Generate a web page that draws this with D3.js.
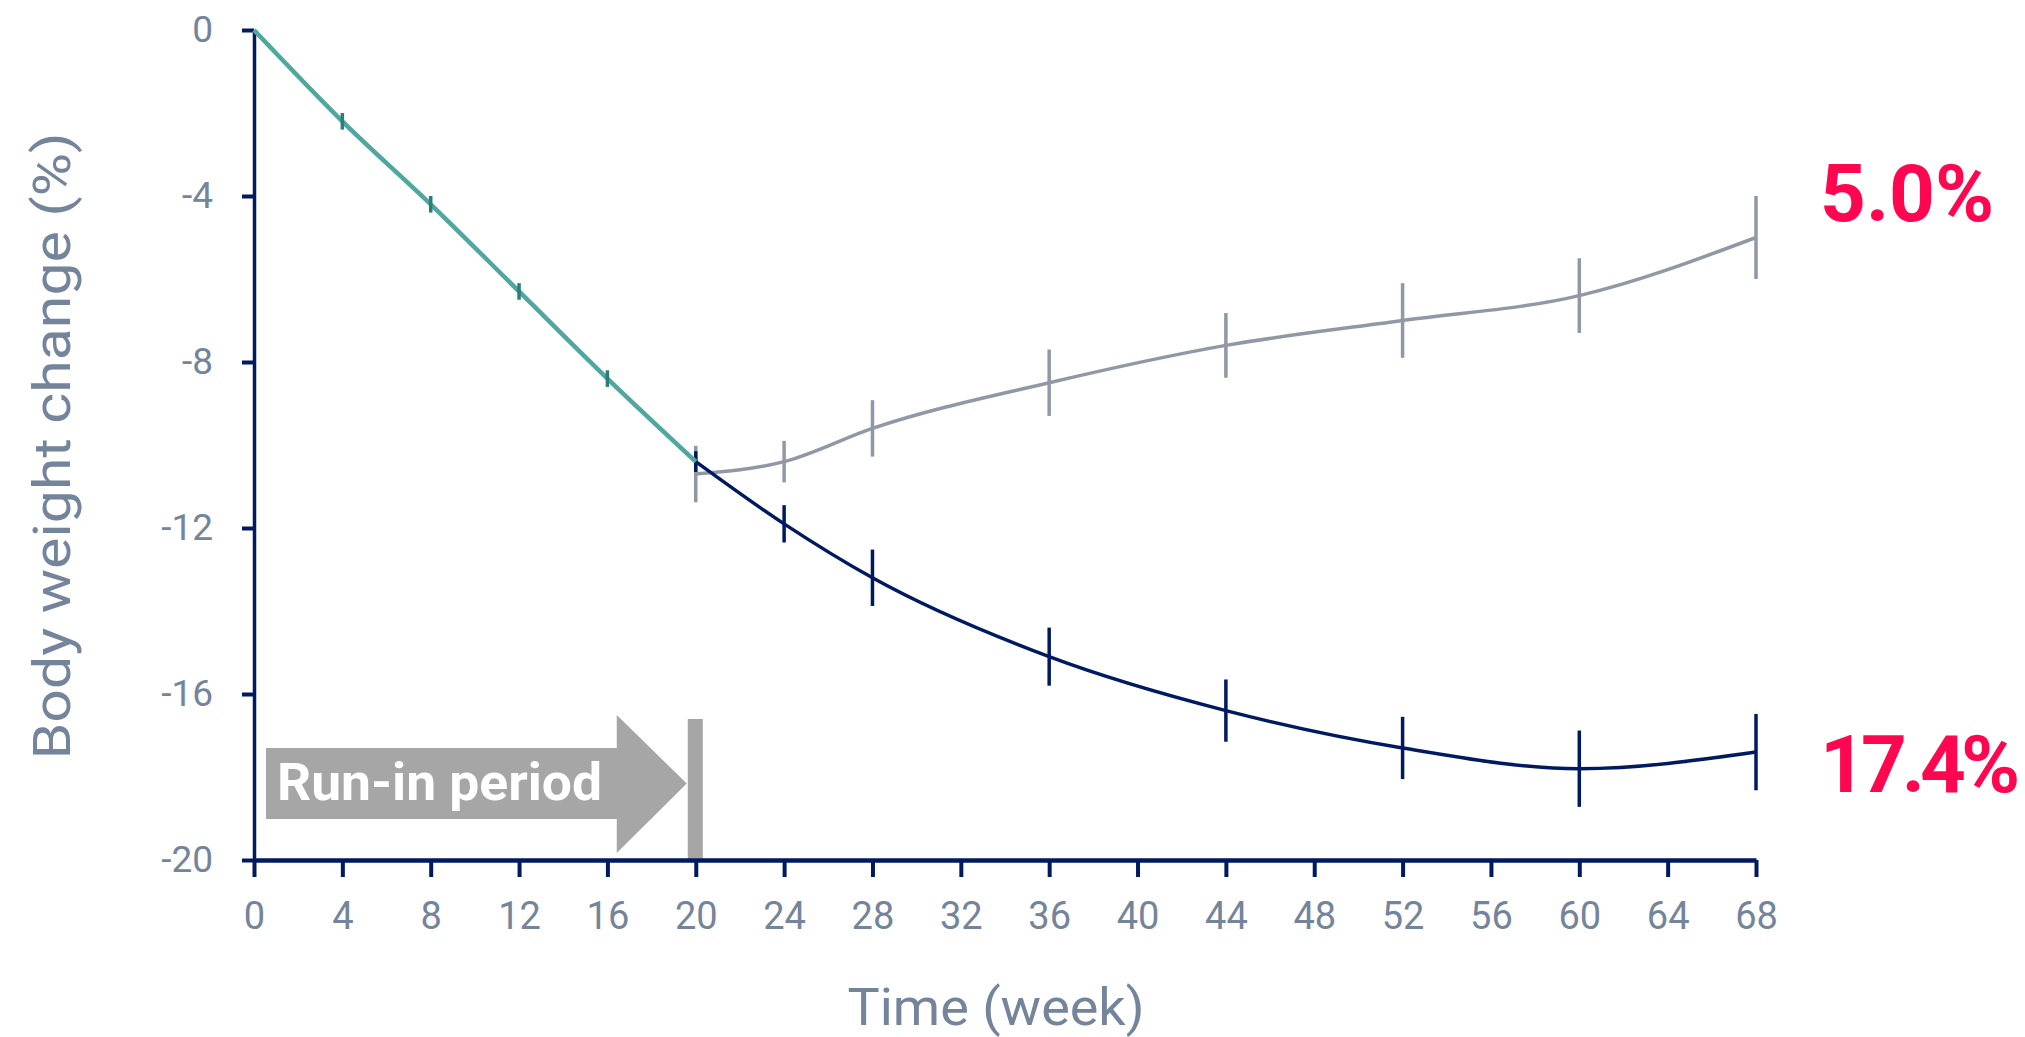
<!DOCTYPE html>
<html>
<head>
<meta charset="utf-8">
<script src="https://cdn.jsdelivr.net/npm/d3@7"></script>
<style>
  html, body { margin: 0; padding: 0; background: #ffffff; }
  svg { display: block; }
</style>
</head>
<body>
<svg id="chart" width="2025" height="1037"></svg>
<script>
// Body weight change over time: shared run-in, then two arms after randomisation
const runInWeeks = [0, 4, 8, 12, 16, 20];
const runInChange = [0, -2.2, -4.2, -6.3, -8.4, -10.4];
const runInError = [0, 0.2, 0.2, 0.2, 0.2, 0];

const armWeeks = [20, 24, 28, 36, 44, 52, 60, 68];
const continuedChange = [-10.4, -11.9, -13.2, -15.1, -16.4, -17.3, -17.8, -17.4];
const continuedError = [0.25, 0.45, 0.68, 0.7, 0.75, 0.75, 0.92, 0.92];
const placeboChange = [-10.7, -10.4, -9.6, -8.5, -7.6, -7.0, -6.4, -5.0];
const placeboError = [0.68, 0.5, 0.68, 0.8, 0.78, 0.9, 0.9, 1.0];

const xTickValues = [0, 4, 8, 12, 16, 20, 24, 28, 32, 36, 40, 44, 48, 52, 56, 60, 64, 68];
const yTickValues = [0, -4, -8, -12, -16, -20];

const xTitle = "Time (week)";
const yTitle = "Body weight change (%)";
const runInText = "Run-in period";
const runInEnd = 20;

const navy = "#001a62";
const grey = "#9198a5";
const teal = "#4fa89e";
const labelRed = "#ff0750";
const textGrey = "#74849a";
const fontStack = "Roboto, 'Open Sans', sans-serif";

const svg = d3.select("#chart");
svg.append("rect").attr("width", 2025).attr("height", 1037).attr("fill", "#ffffff");

const x = d3.scaleLinear().domain([0, 68]).range([254, 1756]);
const y = d3.scaleLinear().domain([-20, 0]).range([860, 30]);

// Run-in annotation: block arrow plus a bar marking the end of run-in
const arrow = {
  left: x(0) + 12,
  headBase: x(runInEnd) - 79,
  tip: x(runInEnd) - 9,
  bodyTop: 748,
  bodyBottom: 819,
  headTop: 715,
  headBottom: 853
};
const arrowMid = (arrow.bodyTop + arrow.bodyBottom) / 2;
svg.append("path")
  .attr("d", d3.line()([
    [arrow.left, arrow.bodyTop],
    [arrow.headBase, arrow.bodyTop],
    [arrow.headBase, arrow.headTop],
    [arrow.tip, arrowMid],
    [arrow.headBase, arrow.headBottom],
    [arrow.headBase, arrow.bodyBottom],
    [arrow.left, arrow.bodyBottom]
  ]) + "Z")
  .attr("fill", "#a6a6a6");

svg.append("rect")
  .attr("x", x(runInEnd) - 8)
  .attr("y", 719)
  .attr("width", 15)
  .attr("height", y(-20) - 719)
  .attr("fill", "#a6a6a6");

svg.append("text")
  .attr("x", arrow.left + 11)
  .attr("y", 800)
  .attr("font-family", fontStack)
  .attr("font-weight", 700)
  .attr("font-size", 52)
  .attr("fill", "#ffffff")
  .attr("textLength", 325)
  .attr("lengthAdjust", "spacingAndGlyphs")
  .text(runInText);

// Axes
const yAxis = d3.axisLeft(y)
  .tickValues(yTickValues)
  .tickFormat(d => d === 0 ? "0" : "-" + Math.abs(d))
  .tickSize(12)
  .tickSizeOuter(0)
  .tickPadding(29);
const yg = svg.append("g").attr("transform", `translate(${x(0)},0)`).call(yAxis);
yg.select(".domain").attr("stroke", navy).attr("stroke-width", 3.5);
yg.selectAll(".tick line").attr("stroke", navy).attr("stroke-width", 4);
yg.selectAll(".tick text")
  .attr("fill", textGrey)
  .attr("font-family", fontStack)
  .attr("font-size", 37);

const xAxis = d3.axisBottom(x)
  .tickValues(xTickValues)
  .tickFormat(d3.format("d"))
  .tickSize(17)
  .tickSizeOuter(0)
  .tickPadding(25);
const xg = svg.append("g").attr("transform", `translate(0,${y(-20)})`).call(xAxis);
xg.select(".domain").attr("stroke", navy).attr("stroke-width", 4.5);
xg.selectAll(".tick line").attr("stroke", navy).attr("stroke-width", 4);
xg.selectAll(".tick text")
  .attr("fill", textGrey)
  .attr("font-family", fontStack)
  .attr("font-size", 38);

// Axis titles
svg.append("text")
  .attr("x", 996)
  .attr("y", 1025)
  .attr("text-anchor", "middle")
  .attr("font-family", fontStack)
  .attr("font-size", 52)
  .attr("fill", textGrey)
  .attr("textLength", 297)
  .attr("lengthAdjust", "spacingAndGlyphs")
  .text(xTitle);

svg.append("text")
  .attr("transform", "translate(70,446) rotate(-90)")
  .attr("text-anchor", "middle")
  .attr("font-family", fontStack)
  .attr("font-size", 52)
  .attr("fill", textGrey)
  .attr("textLength", 627)
  .attr("lengthAdjust", "spacingAndGlyphs")
  .text(yTitle);

// Series: line through the means with vertical error bars
function drawSeries(weeks, values, errors, colour, width, barColour) {
  const pts = weeks.map((w, i) => ({ w, v: values[i], e: errors[i] }));
  svg.append("path")
    .datum(pts)
    .attr("fill", "none")
    .attr("stroke", colour)
    .attr("stroke-width", width)
    .attr("stroke-linejoin", "round")
    .attr("d", d3.line().x(d => x(d.w)).y(d => y(d.v)).curve(d3.curveMonotoneX));
  svg.append("g")
    .selectAll("line")
    .data(pts.filter(d => d.e > 0))
    .join("line")
    .attr("x1", d => x(d.w))
    .attr("x2", d => x(d.w))
    .attr("y1", d => y(d.v - d.e))
    .attr("y2", d => y(d.v + d.e))
    .attr("stroke", barColour)
    .attr("stroke-width", 3.5);
}

drawSeries(armWeeks, placeboChange, placeboError, grey, 3.5, grey);
drawSeries(armWeeks, continuedChange, continuedError, navy, 3.5, navy);
drawSeries(runInWeeks, runInChange, runInError, teal, 4.5, "#2b7f78");

// End-of-study values
const endLabels = [
  { v: placeboChange[placeboChange.length - 1], dy: -17, spacing: 0 },
  { v: continuedChange[continuedChange.length - 1], dy: 40, spacing: -5 }
];
svg.append("g")
  .selectAll("text")
  .data(endLabels)
  .join("text")
  .attr("x", x(68) + 64)
  .attr("y", d => y(d.v) + d.dy)
  .attr("font-family", fontStack)
  .attr("font-weight", 700)
  .attr("font-size", 80)
  .attr("letter-spacing", d => d.spacing)
  .attr("fill", labelRed)
  .text(d => Math.abs(d.v).toFixed(1) + "%");
</script>
</body>
</html>
